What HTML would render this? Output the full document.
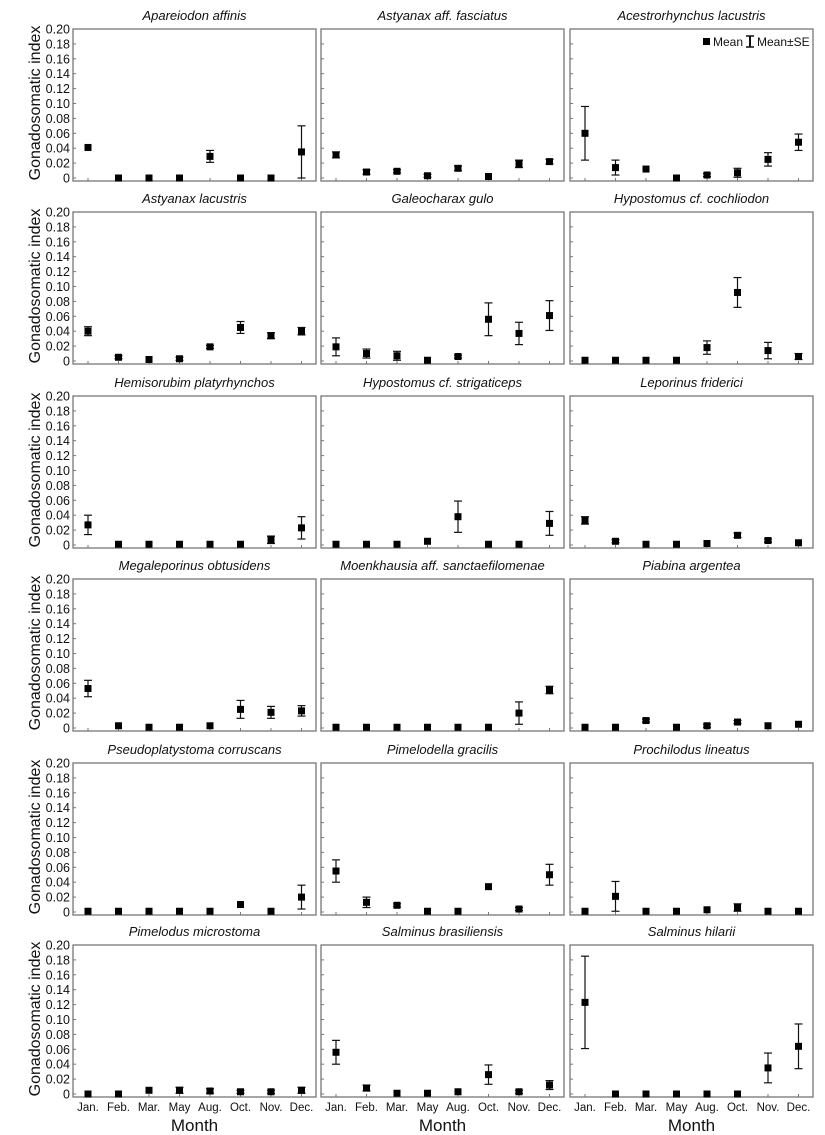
<!DOCTYPE html>
<html><head><meta charset="utf-8"><style>
body{margin:0;background:#fff}
svg{display:block;font-family:"Liberation Sans",sans-serif}
</style></head><body>
<svg id="chart" width="825" height="1135"></svg>
<script>
const months = ["Jan.","Feb.","Mar.","May","Aug.","Oct.","Nov.","Dec."];
const yTicks = [0,0.02,0.04,0.06,0.08,0.10,0.12,0.14,0.16,0.18,0.20];
const yTickLabels = ["0","0.02","0.04","0.06","0.08","0.10","0.12","0.14","0.16","0.18","0.20"];
const species = ["Apareiodon affinis","Astyanax aff. fasciatus","Acestrorhynchus lacustris","Astyanax lacustris","Galeocharax gulo","Hypostomus cf. cochliodon","Hemisorubim platyrhynchos","Hypostomus cf. strigaticeps","Leporinus friderici","Megaleporinus obtusidens","Moenkhausia aff. sanctaefilomenae","Piabina argentea","Pseudoplatystoma corruscans","Pimelodella gracilis","Prochilodus lineatus","Pimelodus microstoma","Salminus brasiliensis","Salminus hilarii"];
const means = [
[0.041,0,0,0,0.029,0,0,0.035],
[0.031,0.008,0.009,0.003,0.013,0.002,0.019,0.022],
[0.060,0.014,0.012,0,0.004,0.007,0.025,0.048],
[0.040,0.005,0.002,0.003,0.019,0.045,0.034,0.040],
[0.019,0.010,0.007,0.001,0.006,0.056,0.037,0.061],
[0.001,0.001,0.001,0.001,0.018,0.092,0.014,0.006],
[0.027,0.001,0.001,0.001,0.001,0.001,0.007,0.023],
[0.001,0.001,0.001,0.005,0.038,0.001,0.001,0.029],
[0.033,0.005,0.001,0.001,0.002,0.013,0.006,0.003],
[0.053,0.003,0.001,0.001,0.003,0.025,0.021,0.023],
[0.001,0.001,0.001,0.001,0.001,0.001,0.020,0.051],
[0.001,0.001,0.010,0.001,0.003,0.008,0.003,0.005],
[0.001,0.001,0.001,0.001,0.001,0.010,0.001,0.020],
[0.055,0.013,0.009,0.001,0.001,0.034,0.004,0.050],
[0.001,0.021,0.001,0.001,0.003,0.006,0.001,0.001],
[0,0,0.005,0.005,0.004,0.003,0.003,0.005],
[0.056,0.008,0.001,0.001,0.003,0.026,0.003,0.012],
[0.123,0,0,0,0,0,0.035,0.064]];
const ses = [
[0.001,0,0,0,0.008,0,0,0.035],
[0.004,0.003,0.002,0.002,0.003,0.001,0.005,0.003],
[0.036,0.010,0.001,0,0.002,0.006,0.009,0.011],
[0.006,0.002,0.001,0.002,0.002,0.008,0.004,0.005],
[0.012,0.006,0.006,0.001,0.002,0.022,0.015,0.020],
[0,0,0,0,0.009,0.020,0.011,0.004],
[0.013,0,0,0,0,0,0.005,0.015],
[0,0,0,0,0.021,0,0,0.016],
[0.005,0.002,0,0,0.001,0.003,0.002,0.001],
[0.011,0.001,0,0,0.001,0.012,0.008,0.007],
[0,0,0,0,0,0,0.015,0.005],
[0,0,0.002,0,0.002,0.002,0.001,0.001],
[0,0,0,0,0,0.001,0,0.016],
[0.015,0.007,0.002,0,0,0,0.002,0.014],
[0,0.020,0,0,0.001,0.005,0,0.001],
[0,0,0.001,0.004,0.003,0.002,0.002,0.004],
[0.016,0.004,0,0,0.001,0.013,0.002,0.006],
[0.062,0,0,0,0,0,0.020,0.030]];

const NS="http://www.w3.org/2000/svg";
const svg=document.getElementById("chart");
function mk(tag,attrs,parent){const e=document.createElementNS(NS,tag);for(const k in attrs)e.setAttribute(k,attrs[k]);(parent||svg).appendChild(e);return e;}
const colX=[73,321,570], W=243;
const zeroY=[178,361,545,728,912,1094];
const PX=149/0.20;
for(let i=0;i<18;i++){
  const r=Math.floor(i/3), c=i%3;
  const x0=colX[c], z=zeroY[r], top=z-149;
  const g=mk("g",{});
  
  
  const yS=v=>z-v*PX;
  const xS=k=>x0+15+k*30.5;
  const box=mk("rect",{x:x0,y:top,width:W,height:152,fill:"none",stroke:"#777","stroke-width":1.3},g);
  
  
  const t=mk("text",{x:x0+W/2,y:top-9,"text-anchor":"middle","font-size":13,"font-style":"italic",fill:"#111"},g);
  t.textContent=species[i];
  
  
  yTicks.forEach((v,k)=>{
    mk("line",{x1:x0,x2:x0+3,y1:yS(v),y2:yS(v),stroke:"#777"},g);
    if(c===0){
      const tl=mk("text",{x:x0-3,y:yS(v)+4.5,"text-anchor":"end","font-size":12.5,fill:"#111"},g);
      tl.textContent=yTickLabels[k];
      
      
    }
  });
  months.forEach((m,k)=>{
    mk("line",{x1:xS(k),x2:xS(k),y1:z+3,y2:z,stroke:"#777"},g);
    if(r===5){
      const ml=mk("text",{x:xS(k),y:1111,"text-anchor":"middle","font-size":11.5,fill:"#111"},g);
      ml.textContent=m;
      
      
    }
    const mv=means[i][k], se=ses[i][k];
    if(se>0.0015){
      const lo=yS(Math.max(0,mv-se)), hi=yS(mv+se);
      mk("line",{x1:xS(k),x2:xS(k),y1:lo,y2:hi,stroke:"#111","stroke-width":1.2},g);
      mk("line",{x1:xS(k)-4,x2:xS(k)+4,y1:lo,y2:lo,stroke:"#111","stroke-width":1.2},g);
      mk("line",{x1:xS(k)-4,x2:xS(k)+4,y1:hi,y2:hi,stroke:"#111","stroke-width":1.2},g);
    }
    const p=mk("rect",{x:xS(k)-3.5,y:yS(mv)-3.5,width:7,height:7,fill:"#000"},g);
    
    
  });
  if(r===5){
    const mt=mk("text",{x:x0+W/2,y:1131,"text-anchor":"middle","font-size":17,fill:"#111"},g);
    mt.textContent="Month";
    
    
  }
  if(c===0){
    const yt=mk("text",{x:0,y:0,"text-anchor":"middle","font-size":16,fill:"#111",transform:`translate(40,${z-75}) rotate(-90)`},g);
    yt.textContent="Gonadosomatic index";
    
    
  }
}
const lg=mk("g",{});


mk("rect",{x:703,y:38,width:7,height:7,fill:"#000"},lg);
const l1=mk("text",{x:713,y:46,"font-size":12,fill:"#111"},lg);l1.textContent="Mean";
mk("line",{x1:750,x2:750,y1:36,y2:47,stroke:"#111","stroke-width":2},lg);
mk("line",{x1:746,x2:754,y1:36,y2:36,stroke:"#111","stroke-width":1.5},lg);
mk("line",{x1:746,x2:754,y1:47,y2:47,stroke:"#111","stroke-width":1.5},lg);
const l2=mk("text",{x:757,y:46,"font-size":12,fill:"#111"},lg);l2.textContent="Mean±SE";
</script>
</body></html>
